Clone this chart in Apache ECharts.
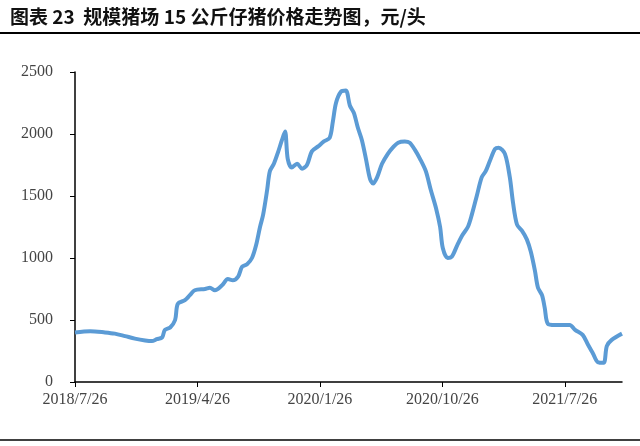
<!DOCTYPE html>
<html><head><meta charset="utf-8">
<script src="https://cdn.jsdelivr.net/npm/echarts@6/dist/echarts.min.js"></script>
<style>body{margin:0;background:#fff}#c{width:640px;height:446px}</style></head>
<body><div id="c"></div>
<script>
var xLabels = ['2018/7/26','2019/4/26','2020/1/26','2020/10/26','2021/7/26'];
var yTicks = [0,500,1000,1500,2000,2500];
var daysFromStart = [0,34,67,89,112,134,157,172,183,195,201,213,224,230,246,257,268,291,302,313,329,342,353,365,374,385,396,405,414,421,430,436,445,454,463,470,476,485,497,508,519,530,544,557,570,577,584,595,606,615,624,633,642,651,660,667,676,687,700,711,723,738,749,761,772,785,796,808,817,823,834,843,855,866,879,888,899,910,919,928,940,948,962,973,980,989,1000,1011,1020,1029,1036,1045,1051,1058,1074,1107,1119,1136,1148,1159,1170,1183,1190,1201,1224];
var price = [400,410,400,390,370,350,335,330,345,360,420,440,500,630,660,700,740,750,760,740,780,830,820,850,930,950,1000,1100,1250,1350,1550,1700,1760,1850,1950,2020,1800,1730,1760,1720,1750,1860,1900,1940,1970,2100,2250,2340,2350,2230,2170,2050,1950,1800,1640,1600,1650,1760,1840,1890,1930,1940,1930,1870,1800,1700,1550,1400,1250,1080,1000,1010,1100,1180,1250,1350,1500,1650,1700,1780,1880,1890,1840,1650,1450,1270,1220,1150,1050,900,760,700,600,470,460,460,420,380,300,230,160,155,290,340,390];
var data = daysFromStart.map(function(d,i){return [d, price[i]];});
var chart = echarts.init(document.getElementById('c'));
chart.setOption({
  animation:false,
  graphic:[
    {type:'text',left:10,top:7,style:{text:'图表 23  规模猪场 15 公斤仔猪价格走势图，元/头',font:'bold 19px "Noto Sans CJK SC"',fill:'#111'}},
    {type:'line',shape:{x1:0,y1:33,x2:640,y2:33},style:{stroke:'#000',lineWidth:2}},
    {type:'line',shape:{x1:0,y1:440,x2:640,y2:440},style:{stroke:'#000',lineWidth:1.5}}
  ],
  grid:{left:75,right:18,top:72,bottom:64},
  xAxis:{type:'value',min:0,max:1224,interval:274,
    axisLine:{lineStyle:{color:'#000',width:1.5}},
    axisTick:{show:true,length:5,lineStyle:{color:'#000'}},
    splitLine:{show:false},
    axisLabel:{showMaxLabel:false,color:'#444',fontFamily:'Liberation Serif',fontSize:16,margin:10,
      formatter:function(v){var i=Math.round(v/274);return xLabels[i]||'';}}},
  yAxis:{type:'value',min:yTicks[0],max:yTicks[yTicks.length-1],interval:500,
    axisLine:{show:true,lineStyle:{color:'#000',width:1.5}},
    axisTick:{show:true,length:5,lineStyle:{color:'#000'}},
    splitLine:{show:false},
    axisLabel:{color:'#444',fontFamily:'Liberation Serif',fontSize:16,margin:22,
      formatter:function(v){return String(v);}}},
  series:[{type:'line',data:data,showSymbol:false,smooth:0.3,
    lineStyle:{color:'#5b9bd5',width:4}}]
});
</script></body></html>
